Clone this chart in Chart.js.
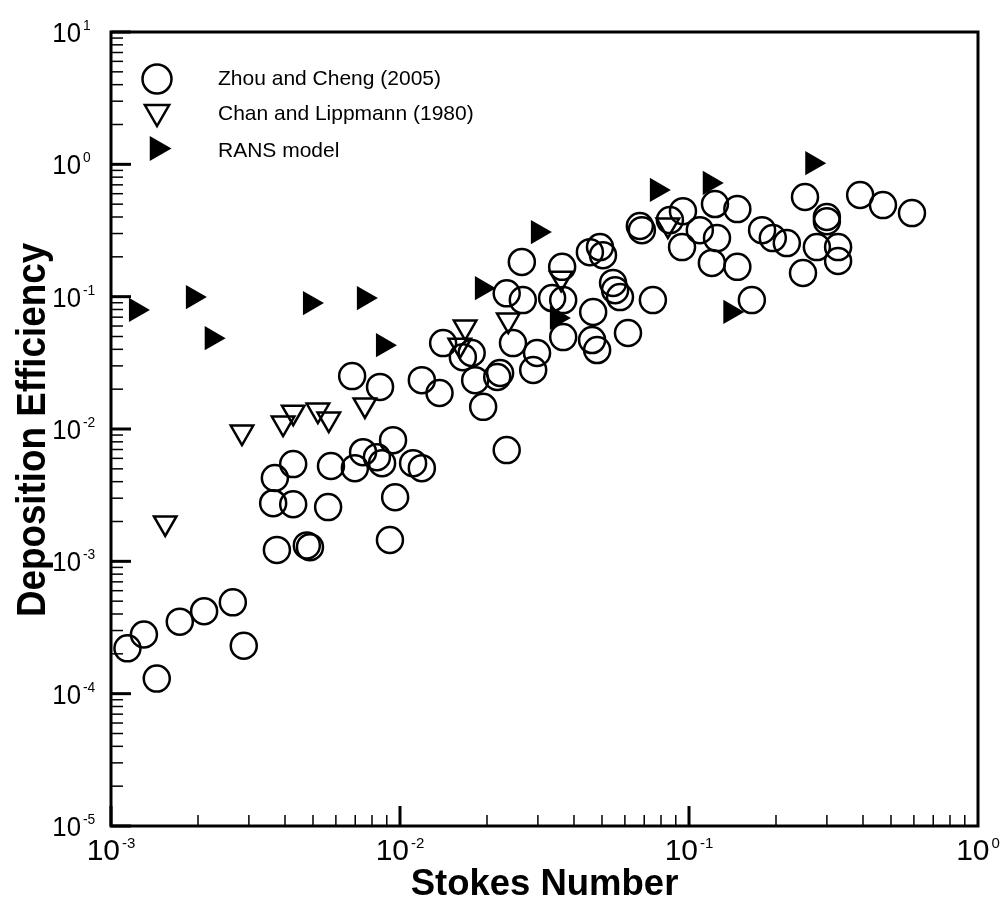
<!DOCTYPE html>
<html>
<head>
<meta charset="utf-8">
<script src="https://cdn.jsdelivr.net/npm/chart.js@4.4.1/dist/chart.umd.min.js"></script>
<style>
  html, body { margin: 0; padding: 0; background: #fff; }
</style>
</head>
<body>
<canvas id="chart" width="1002" height="903"></canvas>
<script>
// Zhou and Cheng (2005) - open circles
const zhouX = [1.14e-3, 1.3e-3, 1.44e-3, 1.73e-3, 2.1e-3, 2.64e-3, 2.88e-3, 3.75e-3, 4.76e-3, 4.88e-3,
  3.64e-3, 4.27e-3, 5.64e-3, 3.69e-3, 4.27e-3, 5.77e-3, 6.83e-3, 8.53e-3, 6.98e-3, 7.45e-3,
  8.32e-3, 9.46e-3, 8.67e-3, 1.11e-2, 1.19e-2, 9.62e-3, 9.23e-3, 1.19e-2, 1.37e-2, 1.41e-2,
  1.65e-2, 1.77e-2, 1.82e-2, 2.17e-2, 2.22e-2, 1.94e-2, 2.46e-2, 2.98e-2, 2.89e-2, 2.34e-2,
  2.64e-2, 2.34e-2, 2.66e-2, 3.36e-2, 3.64e-2, 3.67e-2, 4.54e-2, 4.92e-2, 5.04e-2, 3.67e-2,
  4.66e-2, 4.62e-2, 4.81e-2, 5.46e-2, 5.55e-2, 5.77e-2, 6.15e-2, 7.5e-2, 6.87e-2, 6.76e-2,
  8.59e-2, 9.53e-2, 9.46e-2, 0.109, 0.123, 0.125, 0.147, 0.12, 0.147, 0.165,
  0.179, 0.195, 0.218, 0.252, 0.3, 0.3, 0.391, 0.469, 0.591, 0.277,
  0.328, 0.328, 0.248];
const zhouY = [2.2e-4, 2.8e-4, 1.3e-4, 3.5e-4, 4.2e-4, 4.9e-4, 2.3e-4, 1.22e-3, 1.32e-3, 1.28e-3,
  2.75e-3, 2.7e-3, 2.57e-3, 4.26e-3, 5.43e-3, 5.25e-3, 2.51e-2, 2.08e-2, 5.06e-3, 6.68e-3,
  6.13e-3, 8.24e-3, 5.52e-3, 5.52e-3, 5.06e-3, 3.05e-3, 1.45e-3, 2.34e-2, 1.87e-2, 4.46e-2,
  3.49e-2, 3.75e-2, 2.34e-2, 2.47e-2, 2.65e-2, 1.47e-2, 4.46e-2, 3.75e-2, 2.79e-2, 6.93e-3,
  0.183, 0.106, 9.42e-2, 9.76e-2, 0.168, 9.42e-2, 0.217, 0.237, 0.206, 4.95e-2,
  7.66e-2, 4.7e-2, 3.95e-2, 0.127, 0.112, 9.93e-2, 5.31e-2, 9.42e-2, 0.318, 0.342,
  0.379, 0.443, 0.237, 0.318, 0.501, 0.277, 0.459, 0.18, 0.168, 9.42e-2,
  0.318, 0.277, 0.254, 0.566, 0.4, 0.372, 0.586, 0.492, 0.428, 0.237,
  0.237, 0.186, 0.151];

// Chan and Lippmann (1980) - open down triangles
const chanX = [1.54e-3, 2.84e-3, 3.94e-3, 4.27e-3, 5.2e-3, 5.67e-3, 7.56e-3, 1.68e-2, 1.61e-2, 2.37e-2, 3.61e-2, 8.45e-2];
const chanY = [1.95e-3, 9.48e-3, 1.11e-2, 1.34e-2, 1.39e-2, 1.19e-2, 1.52e-2, 5.89e-2, 4.3e-2, 6.65e-2, 0.138, 0.348];

// RANS model - filled right triangles
const ransX = [1.22e-3, 1.92e-3, 2.23e-3, 4.88e-3, 7.5e-3, 8.73e-3, 1.92e-2, 3.0e-2, 3.49e-2, 7.74e-2, 0.118, 0.139, 0.267];
const ransY = [7.93e-2, 9.93e-2, 4.86e-2, 8.95e-2, 9.76e-2, 4.3e-2, 0.116, 0.308, 6.9e-2, 0.64, 0.723, 7.66e-2, 1.02];

const seriesNames = ['Zhou and Cheng (2005)', 'Chan and Lippmann (1980)', 'RANS model'];
const xTickValues = [1e-3, 1e-2, 1e-1, 1];
const yTickValues = [1e-5, 1e-4, 1e-3, 1e-2, 1e-1, 1, 10];
const xTitle = 'Stokes Number';
const yTitle = 'Deposition Efficiency';

const FONT = '"Liberation Sans", Arial, sans-serif';

function toPoints(xs, ys) {
  return xs.map((x, i) => ({ x: x, y: ys[i] }));
}

// text squeezed horizontally by k, drawn left-aligned at (x, y)
function squeezed(ctx, text, x, y, k) {
  ctx.save();
  ctx.translate(x, y);
  ctx.scale(k, 1);
  ctx.fillText(text, 0, 0);
  ctx.restore();
}

// draws "10" with a superscript exponent
function drawPow(ctx, value, x, y, mode) {
  const exp = String(Math.round(Math.log10(value)));
  const k = mode === 'x' ? 1 : 0.92;
  const base = mode === 'x' ? 30 : 28;
  ctx.textAlign = 'left';
  ctx.textBaseline = 'alphabetic';
  ctx.font = base + 'px ' + FONT;
  const wBase = ctx.measureText('10').width * k;
  ctx.font = '15px ' + FONT;
  const wExp = ctx.measureText(exp).width * k;
  const left = mode === 'x' ? x - (wBase + 2 + wExp) / 2 : x - wBase;
  ctx.font = base + 'px ' + FONT;
  squeezed(ctx, '10', left, y, k);
  ctx.font = '15px ' + FONT;
  squeezed(ctx, exp, left + wBase + 2, y - 12, k);
}

function drawMarker(ctx, kind, cx, cy) {
  ctx.beginPath();
  if (kind === 0) {
    ctx.arc(cx, cy, 14.5, 0, Math.PI * 2);
    ctx.lineWidth = 2.5;
    ctx.stroke();
  } else if (kind === 1) {
    const r = 14, h = r * Math.sin(Math.PI / 3);
    ctx.moveTo(cx - h, cy - r / 2);
    ctx.lineTo(cx + h, cy - r / 2);
    ctx.lineTo(cx, cy + r);
    ctx.closePath();
    ctx.lineWidth = 2.5;
    ctx.stroke();
  } else {
    const r = 14.5, h = r * Math.sin(Math.PI / 3);
    ctx.moveTo(cx - r / 2, cy - h);
    ctx.lineTo(cx + r, cy);
    ctx.lineTo(cx - r / 2, cy + h);
    ctx.closePath();
    ctx.fill();
  }
}

const axesFrame = {
  id: 'axesFrame',
  afterDatasetsDraw(chart) {
    const { ctx, chartArea: a, scales } = chart;
    const sx = scales.x, sy = scales.y;
    ctx.save();
    ctx.strokeStyle = '#000';
    ctx.fillStyle = '#000';

    // x ticks (inside)
    for (let e = -3; e < 0; e++) {
      for (let m = 1; m <= 9; m++) {
        const px = sx.getPixelForValue(m * Math.pow(10, e));
        const len = m === 1 ? 20 : 11;
        ctx.lineWidth = m === 1 ? 3 : 1.5;
        ctx.beginPath();
        ctx.moveTo(px, a.bottom);
        ctx.lineTo(px, a.bottom - len);
        ctx.stroke();
      }
    }
    // y ticks (inside)
    for (let e = -5; e <= 1; e++) {
      for (let m = 1; m <= 9; m++) {
        if (e === 1 && m > 1) break;
        const py = sy.getPixelForValue(m * Math.pow(10, e));
        const len = m === 1 ? 20 : 12;
        ctx.lineWidth = m === 1 ? 3 : 1.5;
        ctx.beginPath();
        ctx.moveTo(a.left, py);
        ctx.lineTo(a.left + len, py);
        ctx.stroke();
      }
    }
    // frame
    ctx.lineWidth = 3;
    ctx.strokeRect(a.left, a.top, a.right - a.left, a.bottom - a.top);

    // tick labels
    xTickValues.forEach(v => drawPow(ctx, v, sx.getPixelForValue(v), a.bottom + 34, 'x'));
    yTickValues.forEach(v => drawPow(ctx, v, a.left - 30, sy.getPixelForValue(v) + 10, 'y'));

    // axis titles
    ctx.textBaseline = 'alphabetic';
    ctx.font = 'bold 36.5px ' + FONT;
    ctx.textAlign = 'center';
    ctx.fillText(xTitle, (a.left + a.right) / 2, 895);
    ctx.save();
    ctx.translate(45, 430);
    ctx.rotate(-Math.PI / 2);
    ctx.scale(0.92, 1);
    ctx.font = 'bold 40px ' + FONT;
    ctx.fillText(yTitle, 0, 0);
    ctx.restore();

    // legend
    const markY = [79, 112, 148.5];
    const textY = [84.5, 119.5, 156.5];
    seriesNames.forEach((name, i) => {
      drawMarker(ctx, i, 157, markY[i]);
      ctx.font = '21px ' + FONT;
      ctx.textAlign = 'left';
      ctx.textBaseline = 'alphabetic';
      ctx.fillText(name, 218, textY[i]);
    });
    ctx.restore();
  }
};

new Chart(document.getElementById('chart'), {
  type: 'scatter',
  data: {
    datasets: [
      {
        label: seriesNames[0],
        data: toPoints(zhouX, zhouY),
        pointStyle: 'circle',
        pointRadius: 13,
        borderWidth: 2.5,
        borderColor: '#000',
        backgroundColor: 'rgba(0,0,0,0)'
      },
      {
        label: seriesNames[1],
        data: toPoints(chanX, chanY),
        pointStyle: 'triangle',
        rotation: 180,
        pointRadius: 13,
        borderWidth: 2.5,
        borderColor: '#000',
        backgroundColor: 'rgba(0,0,0,0)'
      },
      {
        label: seriesNames[2],
        data: toPoints(ransX, ransY),
        pointStyle: 'triangle',
        rotation: 90,
        pointRadius: 14,
        borderWidth: 0,
        borderColor: '#000',
        backgroundColor: '#000'
      }
    ]
  },
  options: {
    responsive: false,
    animation: false,
    devicePixelRatio: 1,
    layout: { padding: { left: 111, right: 24, top: 32, bottom: 77 } },
    plugins: {
      legend: { display: false },
      tooltip: { enabled: false }
    },
    scales: {
      x: {
        type: 'logarithmic',
        min: 1e-3,
        max: 1,
        ticks: { display: false },
        grid: { display: false },
        border: { display: false },
        afterFit(s) { s.height = 0; }
      },
      y: {
        type: 'logarithmic',
        min: 1e-5,
        max: 10,
        ticks: { display: false },
        grid: { display: false },
        border: { display: false },
        afterFit(s) { s.width = 0; }
      }
    }
  },
  plugins: [axesFrame]
});
</script>
</body>
</html>
